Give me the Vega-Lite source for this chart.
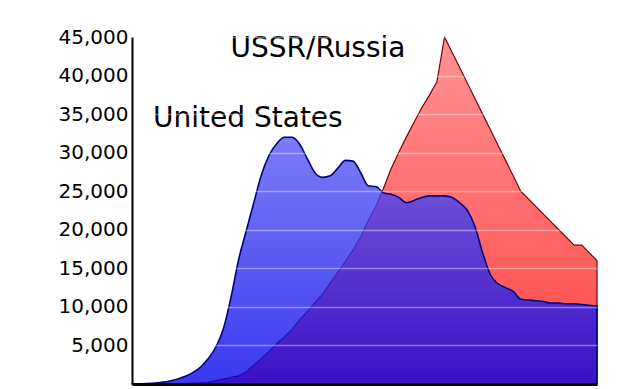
{
  "$schema": "https://vega.github.io/schema/vega-lite/v6.json",
  "width": 465,
  "height": 347,
  "autosize": {"type": "none"},
  "padding": {"left": 132, "top": 37, "right": 43, "bottom": 5},
  "background": "white",
  "config": {"view": {"stroke": null}, "font": "DejaVu Sans"},
  "datasets": {
    "stock": [
      {"year": 1945, "us": 0, "ussr": null},
      {"year": 1946, "us": 20, "ussr": null},
      {"year": 1947, "us": 50, "ussr": null},
      {"year": 1948, "us": 110, "ussr": null},
      {"year": 1949, "us": 240, "ussr": 0},
      {"year": 1950, "us": 400, "ussr": 5},
      {"year": 1951, "us": 650, "ussr": 25},
      {"year": 1952, "us": 1000, "ussr": 50},
      {"year": 1953, "us": 1500, "ussr": 120},
      {"year": 1954, "us": 2200, "ussr": 150},
      {"year": 1955, "us": 3300, "ussr": 200},
      {"year": 1956, "us": 4800, "ussr": 430},
      {"year": 1957, "us": 7200, "ussr": 660},
      {"year": 1958, "us": 11300, "ussr": 870},
      {"year": 1959, "us": 16200, "ussr": 1060},
      {"year": 1960, "us": 19900, "ussr": 1600},
      {"year": 1961, "us": 23600, "ussr": 2470},
      {"year": 1962, "us": 27200, "ussr": 3320},
      {"year": 1963, "us": 29700, "ussr": 4240},
      {"year": 1964, "us": 31200, "ussr": 5220},
      {"year": 1965, "us": 32000, "ussr": 6130},
      {"year": 1966, "us": 32000, "ussr": 7090},
      {"year": 1967, "us": 31100, "ussr": 8340},
      {"year": 1968, "us": 29200, "ussr": 9400},
      {"year": 1969, "us": 27400, "ussr": 10540},
      {"year": 1970, "us": 26800, "ussr": 11640},
      {"year": 1971, "us": 27000, "ussr": 13090},
      {"year": 1972, "us": 28000, "ussr": 14480},
      {"year": 1973, "us": 29000, "ussr": 15920},
      {"year": 1974, "us": 28900, "ussr": 17390},
      {"year": 1975, "us": 27400, "ussr": 19060},
      {"year": 1976, "us": 25700, "ussr": 21200},
      {"year": 1977, "us": 25600, "ussr": 23040},
      {"year": 1978, "us": 24800, "ussr": 25390},
      {"year": 1979, "us": 24600, "ussr": 27940},
      {"year": 1980, "us": 24200, "ussr": 30060},
      {"year": 1981, "us": 23500, "ussr": 32050},
      {"year": 1982, "us": 23800, "ussr": 33950},
      {"year": 1983, "us": 24200, "ussr": 35800},
      {"year": 1984, "us": 24400, "ussr": 37430},
      {"year": 1985, "us": 24400, "ussr": 39200},
      {"year": 1986, "us": 24400, "ussr": 45000},
      {"year": 1987, "us": 24200, "ussr": 43000},
      {"year": 1988, "us": 23500, "ussr": 41000},
      {"year": 1989, "us": 22500, "ussr": 39000},
      {"year": 1990, "us": 20400, "ussr": 37000},
      {"year": 1991, "us": 17000, "ussr": 35000},
      {"year": 1992, "us": 14200, "ussr": 33000},
      {"year": 1993, "us": 13000, "ussr": 31000},
      {"year": 1994, "us": 12500, "ussr": 29000},
      {"year": 1995, "us": 12000, "ussr": 27000},
      {"year": 1996, "us": 11000, "ussr": 25000},
      {"year": 1997, "us": 10900, "ussr": 24000},
      {"year": 1998, "us": 10800, "ussr": 23000},
      {"year": 1999, "us": 10700, "ussr": 22000},
      {"year": 2000, "us": 10500, "ussr": 21000},
      {"year": 2001, "us": 10500, "ussr": 20000},
      {"year": 2002, "us": 10400, "ussr": 19000},
      {"year": 2003, "us": 10400, "ussr": 18000},
      {"year": 2004, "us": 10300, "ussr": 18000},
      {"year": 2005, "us": 10200, "ussr": 17000},
      {"year": 2006, "us": 10100, "ussr": 16000}
    ],
    "labels": [
      {"label": "USSR/Russia", "year": 1969.4, "value": 42400},
      {"label": "United States", "year": 1960.2, "value": 33300}
    ]
  },
  "layer": [
    {
      "data": {"name": "stock"},
      "transform": [{"filter": "datum.ussr != null"}],
      "mark": {
        "type": "area",
        "interpolate": "linear",
        "fill": {
          "gradient": "linear", "x1": 0, "y1": 0, "x2": 0, "y2": 1,
          "stops": [{"offset": 0, "color": "#ff9494"}, {"offset": 1, "color": "#ff4444"}]
        },
        "stroke": "#7a0000",
        "strokeWidth": 1.2,
        "strokeJoin": "round"
      },
      "encoding": {
        "x": {
          "field": "year", "type": "quantitative",
          "scale": {"domain": [1945, 2006], "nice": false, "zero": false},
          "axis": {"title": null, "labels": false, "ticks": false, "grid": false, "domain": true, "domainColor": "black", "domainWidth": 3, "zindex": 1}
        },
        "y": {
          "field": "ussr", "type": "quantitative",
          "scale": {"domain": [0, 45000], "nice": false},
          "axis": {
            "title": null,
            "values": [5000, 10000, 15000, 20000, 25000, 30000, 35000, 40000, 45000],
            "format": ",d",
            "labelFontSize": 20,
            "labelColor": "black",
            "labelFont": "DejaVu Sans",
            "labelPadding": 4,
            "ticks": false,
            "domain": true,
            "domainColor": "black",
            "domainWidth": 2,
            "grid": true,
            "gridColor": "white",
            "gridOpacity": 0.4,
            "gridWidth": 1.5,
            "zindex": 1
          }
        }
      }
    },
    {
      "data": {"name": "stock"},
      "mark": {
        "type": "area",
        "interpolate": "monotone",
        "fill": {
          "gradient": "linear", "x1": 0, "y1": 0, "x2": 0, "y2": 1,
          "stops": [{"offset": 0, "color": "#5858f6"}, {"offset": 1, "color": "#0404ea"}]
        },
        "fillOpacity": 0.79,
        "stroke": "#00007a",
        "strokeWidth": 1.6,
        "strokeJoin": "round"
      },
      "encoding": {
        "x": {"field": "year", "type": "quantitative", "title": null},
        "y": {"field": "us", "type": "quantitative", "title": null}
      }
    },
    {
      "data": {"name": "labels"},
      "mark": {"type": "text", "fontSize": 28, "font": "DejaVu Sans", "color": "black", "align": "center", "baseline": "alphabetic"},
      "encoding": {
        "x": {"field": "year", "type": "quantitative", "title": null},
        "y": {"field": "value", "type": "quantitative", "title": null},
        "text": {"field": "label"}
      }
    }
  ]
}
